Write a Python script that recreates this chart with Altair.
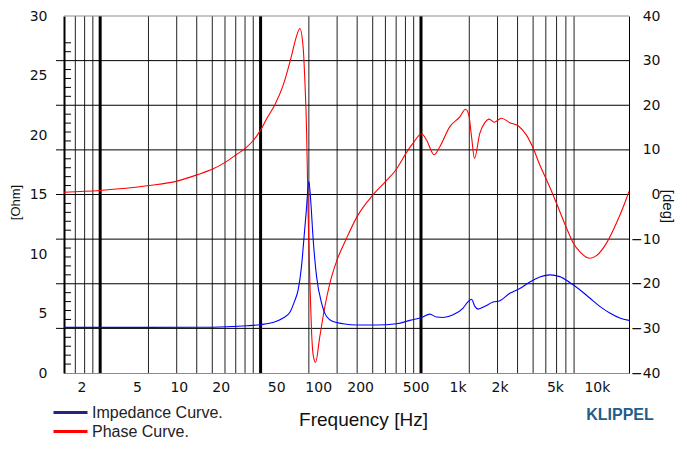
import altair as alt
import pandas as pd

# ---------------- data ----------------
phase_freq = [1.5, 2.72, 6.1, 9.69, 13.5, 17.5, 21.5, 25.8, 30.1, 34.2,
              38.2, 42.9, 48.9, 56.1, 63.7, 69.2, 73.9, 78.0, 80.3, 82.6, 83.9,
              84.8, 87.2, 89.7, 92.1, 95.8, 102.8, 111.7, 121.3, 136.9, 159.8,
              190.5, 246.9, 304.4, 360.9, 442.2, 480.2, 551.9, 599.2, 679.4, 746.6,
              880.8, 1039, 1141, 1205, 1260, 1324, 1445, 1570, 1686, 1830,
              2068, 2372, 2721, 3126, 3486, 3894, 4350, 4851, 5418, 6052,
              6750, 7540, 8895, 9934, 11720, 13820, 15860, 17000]
phase_deg = [0.5, 0.9, 2.0, 3.0, 4.4, 5.7, 7.2, 8.9, 10.4, 12.1,
             14.2, 17.1, 20.1, 24.5, 30.5, 35.0, 37.2, 33.0, 25.3, 14.1, 2.9,
             -4.9, -19.8, -31.0, -36.0, -37.6, -31.8, -25.1, -19.9, -14.6, -9.8,
             -4.9, -0.1, 2.9, 5.5, 10.0, 11.5, 13.6, 12.2, 8.9, 10.7,
             15.2, 17.4, 19.1, 17.8, 13.0, 8.1, 13.7, 16.1, 16.9, 16.2,
             17.1, 16.1, 15.4, 13.3, 10.4, 6.6, 3.3, -0.1, -3.8, -7.5,
             -10.8, -12.8, -14.3, -13.7, -10.9, -6.4, -1.9, 0.7]

imp_freq = [1.5, 2.72, 6.2, 14.2, 22.0, 30.6, 38.2, 47.3, 56.1, 62.7,
            67.5, 71.9, 76.0, 78.9, 82.0, 85.8, 88.6, 92.1, 97.4, 105.8,
            114.9, 128.1, 151.1, 188.6, 262.4, 365.1, 454.8, 551.9, 632.8, 707.1,
            788.2, 929.9, 1097, 1191, 1260, 1331, 1405, 1570, 1800, 2011,
            2372, 2798, 3302, 3894, 4593, 5418, 6392, 7540, 8895, 10490,
            12375, 14600, 17000]
imp_ohm = [3.83, 3.83, 3.83, 3.84, 3.89, 3.97, 4.06, 4.25, 4.62, 5.1,
           6.0, 7.0, 9.0, 11.2, 13.5, 16.1, 14.3, 11.2, 8.1, 5.88,
           4.75, 4.33, 4.14, 4.03, 4.03, 4.14, 4.42, 4.67, 4.95, 4.7,
           4.67, 4.9, 5.46, 6.0, 6.2, 5.6, 5.37, 5.6, 5.96, 6.07,
           6.7, 7.1, 7.65, 8.06, 8.25, 8.1, 7.6, 7.0, 6.3, 5.6,
           5.04, 4.62, 4.42]

x_tick_values = [2, 5, 10, 20, 50, 100, 200, 500, 1000, 2000, 5000, 10000]
x_tick_labels = ["2", "5", "10", "20", "50", "100", "200", "500", "1k", "2k", "5k", "10k"]
ohm_ticks = [0, 5, 10, 15, 20, 25, 30]
deg_ticks = [-40, -30, -20, -10, 0, 10, 20, 30, 40]
deg_grid = [-30, -20, -10, 0, 10, 20, 30]
deg_minor = [-38, -36, -34, -32, -28, -26, -24, -22, -18, -16, -14, -12, -8, -6, -4, -2,
             2, 4, 6, 8, 12, 14, 16, 18, 22, 24, 26, 28, 32, 34]
grid_thin = [0.7, 0.8, 0.9, 2, 3, 4, 5, 6, 7, 8, 9, 20, 30, 40, 50, 60, 70, 80, 90,
             200, 300, 400, 500, 600, 700, 800, 900]
grid_thick = [1, 10, 100]
legend_imp_label = ["Impedance Curve."]
legend_phase_label = ["Phase Curve."]
logo_text = ["KLIPPEL"]

W, H = 565, 357
FONT = "Liberation Sans"
NUMFONT = "DejaVu Sans"

label_expr = " : ".join(
    f"datum.value == {v} ? '{l}'" for v, l in zip(x_tick_values, x_tick_labels)
) + " : ''"

x_scale = alt.Scale(type="log", domain=[1.5, 17000], nice=False)
x_axis = alt.Axis(values=x_tick_values, labelExpr=label_expr, grid=False, ticks=False,
                  tickSize=0, labelPadding=18, labelBaseline="alphabetic",
                  labelFont=NUMFONT, labelFontSize=14, labelColor="#111",
                  labelOverlap=False, labelFlush=False,
                  domainColor="#8c8c8c", domainWidth=1,
                  title="Frequency [Hz]", titleFont=FONT, titleFontSize=19,
                  titleFontWeight="normal", titleColor="#111",
                  titleX=299, titleY=52, titleAlign="center", titleBaseline="alphabetic")

phase_scale = alt.Scale(domain=[-40, 40], nice=False, zero=False)
phase_axis = alt.Axis(orient="right", values=deg_ticks, grid=False, ticks=False, tickSize=0,
                      labelPadding=31, labelAlign="right", labelFont=NUMFONT,
                      labelFontSize=14, labelColor="#111",
                      domainColor="black", domainWidth=1,
                      title="[deg]", titleAngle=90, titleX=33, titleY=190,
                      titleAlign="center", titleBaseline="alphabetic",
                      titleFont=FONT, titleFontSize=15, titleFontWeight="normal",
                      titleColor="#111")

imp_scale = alt.Scale(domain=[0, 30], nice=False, zero=False)
imp_axis = alt.Axis(orient="left", values=ohm_ticks, grid=False, ticks=False, tickSize=0,
                    labelPadding=17, labelFont=NUMFONT, labelFontSize=14, labelColor="#111",
                    domainColor="black", domainWidth=2,
                    title="[Ohm]", titleAngle=270, titleX=-45, titleY=186,
                    titleAlign="center", titleBaseline="alphabetic",
                    titleFont=FONT, titleFontSize=13, titleFontWeight="normal",
                    titleColor="#111")

# ---------------- vertical grid (own log scale) ----------------
g_scale = alt.Scale(type="log", domain=[0.595, 1980], nice=False)
grid_thin_layer = alt.Chart(pd.DataFrame({"g": grid_thin})).mark_rule(
    color="#222", strokeWidth=1).encode(x=alt.X("g:Q", scale=g_scale, axis=None))
grid_thick_layer = alt.Chart(pd.DataFrame({"g": grid_thick})).mark_rule(
    color="black", strokeWidth=3).encode(x=alt.X("g:Q", scale=g_scale, axis=None))
grid_group = alt.layer(grid_thin_layer, grid_thick_layer)

# ---------------- phase group ----------------
hgrid = alt.Chart(pd.DataFrame({"deg": deg_grid})).mark_rule(color="black", strokeWidth=1).encode(
    y=alt.Y("deg:Q", scale=phase_scale, axis=phase_axis),
    x=alt.value(-8), x2=alt.value(W))
minor = alt.Chart(pd.DataFrame({"deg": deg_minor})).mark_rule(color="black", strokeWidth=1).encode(
    y=alt.Y("deg:Q", scale=phase_scale, axis=phase_axis),
    x=alt.value(0), x2=alt.value(7))
top_border = alt.Chart(pd.DataFrame({"deg": [40]})).mark_rule(color="#8c8c8c", strokeWidth=1).encode(
    y=alt.Y("deg:Q", scale=phase_scale, axis=phase_axis),
    x=alt.value(0), x2=alt.value(W))
phase_line = alt.Chart(pd.DataFrame({"freq": phase_freq, "deg": phase_deg})).mark_line(
    color="#ff0000", strokeWidth=1.1, interpolate="monotone").encode(
    x=alt.X("freq:Q", scale=x_scale, axis=x_axis),
    y=alt.Y("deg:Q", scale=phase_scale, axis=phase_axis))
phase_group = alt.layer(hgrid, minor, top_border, phase_line)

# ---------------- impedance group ----------------
imp_line = alt.Chart(pd.DataFrame({"freq": imp_freq, "ohm": imp_ohm})).mark_line(
    color="#0000ff", strokeWidth=1.1, interpolate="monotone").encode(
    x=alt.X("freq:Q", scale=x_scale, axis=x_axis),
    y=alt.Y("ohm:Q", scale=imp_scale, axis=imp_axis))


def legend_entry(labels, field, colour, ly):
    return alt.Chart(pd.DataFrame({field: labels})).mark_point(opacity=0).encode(
        color=alt.Color(f"{field}:N",
                        scale=alt.Scale(domain=labels, range=[colour]),
                        legend=alt.Legend(orient="none", legendX=-12, legendY=ly, title=None,
                                          symbolType="stroke", symbolSize=1156,
                                          symbolStrokeWidth=3, symbolOpacity=1,
                                          labelFont=FONT, labelFontSize=16,
                                          labelColor="#222", labelOffset=3, padding=0)))


legend_imp = legend_entry(legend_imp_label, "imp_series", "#24247f", 378)
legend_phase = legend_entry(legend_phase_label, "phase_series", "#ff0000", 397)

logo = alt.Chart(pd.DataFrame({"t": logo_text})).mark_text(
    font="Liberation Sans Narrow, Liberation Sans", fontWeight="bold", fontSize=16,
    color="#1f5d8c", align="center", baseline="middle").encode(
    x=alt.value(556), y=alt.value(399), text="t:N")
imp_group = alt.layer(imp_line, legend_imp, legend_phase, logo).resolve_scale(color="independent")

data_group = alt.layer(phase_group, imp_group).resolve_scale(y="independent")

chart = alt.layer(grid_group, data_group).resolve_scale(x="independent").properties(
    width=W, height=H, autosize="none",
    padding={"left": 56, "top": 8, "right": 50, "bottom": 67},
    background="white",
).configure_view(stroke=None)

chart.save("out.html", embed_options={"renderer": "svg", "actions": False})
